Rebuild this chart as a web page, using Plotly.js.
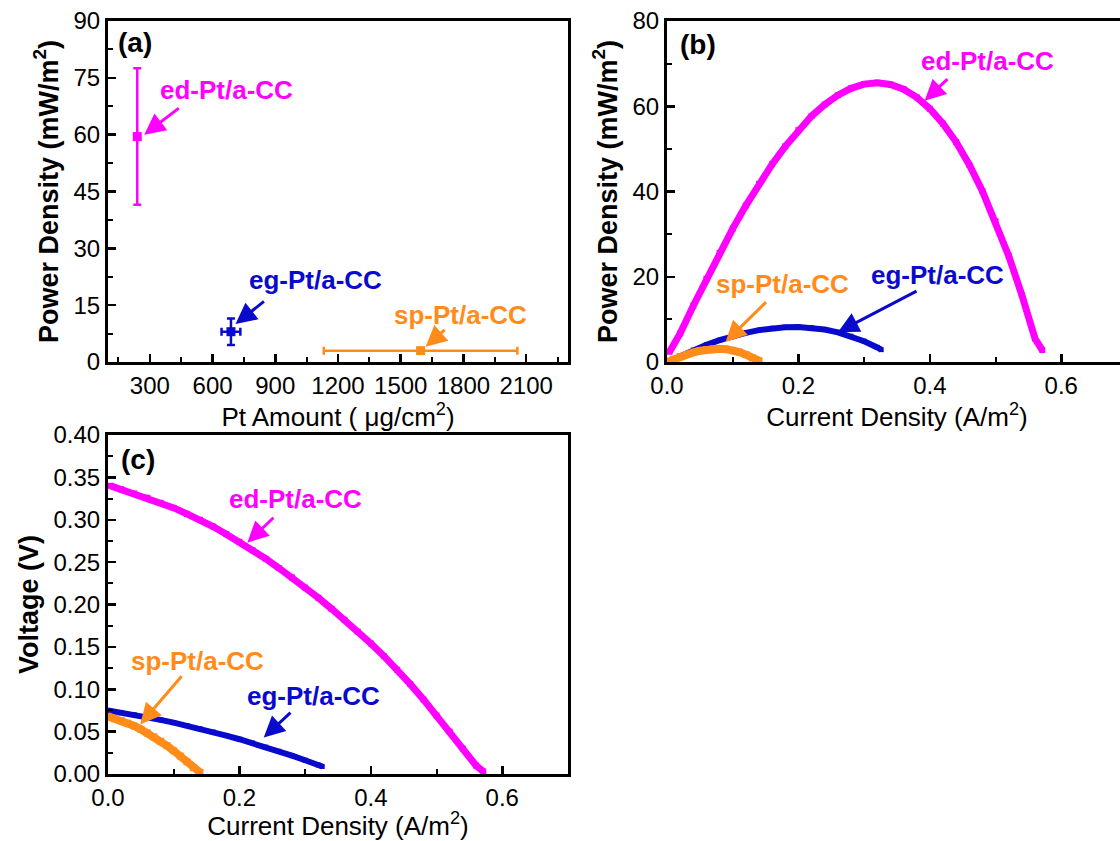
<!DOCTYPE html>
<html>
<head>
<meta charset="utf-8">
<script src="https://cdn.plot.ly/plotly-3.0.1.min.js"></script>
<style>
html, body { margin: 0; padding: 0; overflow: hidden; background: #fff; }
#chart { width: 1130px; height: 841px; }
</style>
</head>
<body>
<div id="chart"></div>
<script>
// ---------- Panel (a): power density vs Pt amount ----------
const samplesA = ["ed-Pt/a-CC", "eg-Pt/a-CC", "sp-Pt/a-CC"];
const ptAmount = [240, 688, 1595];          // µg/cm²
const ptAmountErr = [0, 45, 463];
const peakPower = [59.5, 8.0, 3.0];          // mW/m²
const peakPowerErr = [18, 3.5, 0];

// ---------- Panel (b)/(c) curves ----------
const edCurrent = [0.004, 0.02, 0.04, 0.06, 0.08, 0.10, 0.12, 0.14, 0.16, 0.18, 0.20, 0.22, 0.24, 0.26, 0.28, 0.30, 0.32, 0.34, 0.36, 0.38, 0.40, 0.42, 0.44, 0.46, 0.48, 0.50, 0.52, 0.54, 0.56, 0.571];
const edPower = [2.4, 6.7, 13.2, 19.5, 25.6, 31.3, 36.7, 41.8, 46.4, 50.6, 54.4, 57.7, 60.4, 62.6, 64.2, 65.2, 65.5, 65.1, 64.0, 62.1, 59.4, 55.9, 51.6, 46.3, 40.1, 33.0, 24.9, 15.7, 5.5, 2.8];
const edVoltage = [0.340, 0.336, 0.331, 0.326, 0.320, 0.314, 0.307, 0.300, 0.292, 0.283, 0.274, 0.264, 0.254, 0.243, 0.232, 0.220, 0.208, 0.195, 0.182, 0.168, 0.154, 0.139, 0.123, 0.106, 0.088, 0.069, 0.050, 0.030, 0.010, 0.003];

const egCurrent = [0, 0.02, 0.04, 0.06, 0.08, 0.10, 0.12, 0.14, 0.16, 0.18, 0.20, 0.22, 0.24, 0.26, 0.28, 0.30, 0.32, 0.326];
const egPower = [0, 1.45, 2.80, 4.02, 5.11, 6.06, 6.85, 7.48, 7.92, 8.15, 8.20, 8.03, 7.61, 6.97, 6.05, 4.86, 3.42, 2.9];
const egVoltage = [0.075, 0.0725, 0.0699, 0.0670, 0.0639, 0.0606, 0.0571, 0.0534, 0.0495, 0.0453, 0.0410, 0.0365, 0.0317, 0.0268, 0.0216, 0.0162, 0.0107, 0.0089];

const spCurrent = [0, 0.01, 0.02, 0.03, 0.04, 0.05, 0.06, 0.07, 0.08, 0.09, 0.10, 0.11, 0.12, 0.13, 0.14];
const spPower = [0, 0.66, 1.26, 1.80, 2.26, 2.64, 2.90, 3.07, 3.10, 3.00, 2.74, 2.33, 1.74, 0.96, 0.3];
const spVoltage = [0.068, 0.0657, 0.0631, 0.0600, 0.0566, 0.0527, 0.0484, 0.0438, 0.0387, 0.0333, 0.0274, 0.0212, 0.0145, 0.0074, 0.002];

const colors = { ed: "#FF00FF", eg: "#0A0ACC", sp: "#FF8C1A" };
const FONT = "Liberation Sans, Arial, sans-serif";
const W = 1130, H = 841;

function px2x(a, b) { return [a / W, b / W]; }
function px2y(top, bottom) { return [1 - bottom / H, 1 - top / H]; }

function axisBase(extra) {
  return Object.assign({
    showline: true, mirror: true, linewidth: 3, linecolor: "#000",
    ticks: "inside", ticklen: 8, tickwidth: 2.5, tickcolor: "#000",
    showgrid: false, zeroline: false,
    tickfont: { family: FONT, size: 24, color: "#000" },
    fixedrange: true
  }, extra);
}

const traces = [];
// Panel (a)
const aColors = [colors.ed, colors.eg, colors.sp];
for (let i = 0; i < samplesA.length; i++) {
  traces.push({
    x: [ptAmount[i]], y: [peakPower[i]], xaxis: "x", yaxis: "y",
    mode: "markers", type: "scatter", name: samplesA[i],
    marker: { symbol: "square", size: 9, color: aColors[i] },
    error_y: { type: "data", array: [peakPowerErr[i]], visible: peakPowerErr[i] > 0, color: aColors[i], thickness: 2.5, width: 4 },
    error_x: { type: "data", array: [ptAmountErr[i]], visible: ptAmountErr[i] > 0, color: aColors[i], thickness: 2.5, width: 4 }
  });
}
function curve(x, y, col, xa, ya, w) {
  return {
    x: x, y: y, xaxis: xa, yaxis: ya, type: "scatter", mode: "lines+markers",
    line: { color: col, width: w }, marker: { symbol: "square", size: w - 1, color: col }
  };
}
// Panel (b)
traces.push(curve(egCurrent, egPower, colors.eg, "x2", "y2", 6));
traces.push(curve(edCurrent, edPower, colors.ed, "x2", "y2", 7));
traces.push(curve(spCurrent, spPower, colors.sp, "x2", "y2", 8));
// Panel (c)
traces.push(curve(edCurrent, edVoltage, colors.ed, "x3", "y3", 7));
traces.push(curve(egCurrent, egVoltage, colors.eg, "x3", "y3", 6));
traces.push(curve(spCurrent, spVoltage, colors.sp, "x3", "y3", 8));

function label(text, x, y, xa, ya, col, anchor, size) {
  return { text: "<b>" + text + "</b>", x: x, y: y, xref: xa, yref: ya, showarrow: false,
    xanchor: anchor || "center", yanchor: "middle",
    font: { family: FONT, size: size || 26, color: col } };
}
function arrow(hx, hy, tx, ty, xa, ya, col) {
  return { text: "", x: hx, y: hy, ax: tx, ay: ty, xref: xa, yref: ya, axref: xa, ayref: ya,
    showarrow: true, arrowhead: 2, arrowsize: 1.4, arrowwidth: 3, arrowcolor: col, standoff: 0 };
}

const annotations = [
  // (a)
  label("(a)", 137, 84.3, "x", "y", "#000", "left", 28),
  label("ed-Pt/a-CC", 665, 71.9, "x", "y", colors.ed),
  arrow(273, 60.0, 446, 67.3, "x", "y", colors.ed),
  label("eg-Pt/a-CC", 1093, 21.6, "x", "y", colors.eg),
  arrow(710, 10.0, 853, 16.3, "x", "y", colors.eg),
  label("sp-Pt/a-CC", 1788, 12.4, "x", "y", colors.sp),
  arrow(1619, 4.0, 1717, 8.8, "x", "y", colors.sp),
  // (b)
  label("(b)", 0.016, 74.5, "x2", "y2", "#000", "left", 28),
  label("ed-Pt/a-CC", 0.487, 70.6, "x2", "y2", colors.ed),
  arrow(0.392, 61.3, 0.429, 66.7, "x2", "y2", colors.ed),
  label("eg-Pt/a-CC", 0.411, 20.3, "x2", "y2", colors.eg),
  arrow(0.26, 7.0, 0.382, 16.8, "x2", "y2", colors.eg),
  label("sp-Pt/a-CC", 0.176, 18.3, "x2", "y2", colors.sp),
  arrow(0.089, 4.7, 0.153, 14.4, "x2", "y2", colors.sp),
  // (c)
  label("(c)", 0.016, 0.371, "x3", "y3", "#000", "left", 28),
  label("ed-Pt/a-CC", 0.285, 0.324, "x3", "y3", colors.ed),
  arrow(0.212, 0.273, 0.254, 0.304, "x3", "y3", colors.ed),
  label("sp-Pt/a-CC", 0.136, 0.133, "x3", "y3", colors.sp),
  arrow(0.049, 0.0585, 0.114, 0.117, "x3", "y3", colors.sp),
  label("eg-Pt/a-CC", 0.313, 0.0917, "x3", "y3", colors.eg),
  arrow(0.237, 0.043, 0.28, 0.074, "x3", "y3", colors.eg)
];

const titleFont = { family: FONT, size: 26, color: "#000" };
const yTitleFont = { family: FONT, size: 27, color: "#000" };

const layout = {
  width: W, height: H,
  margin: { l: 0, r: 0, t: 0, b: 0 },
  paper_bgcolor: "#fff", plot_bgcolor: "#fff",
  showlegend: false,
  xaxis: axisBase({
    domain: px2x(108, 568), anchor: "y", range: [100, 2300],
    tick0: 0, dtick: 300,
    minor: { ticks: "inside", ticklen: 5, tickwidth: 2, dtick: 150, tick0: 0, tickcolor: "#000" },
    title: { text: "Pt Amount ( \u03bcg/cm<sup>2</sup>)", font: titleFont, standoff: 4 }
  }),
  yaxis: axisBase({
    domain: px2y(21, 362), anchor: "x", range: [0, 90],
    tick0: 0, dtick: 15,
    minor: { ticks: "inside", ticklen: 5, tickwidth: 2, dtick: 7.5, tick0: 0, tickcolor: "#000" },
    title: { text: "<b>Power Density (mW/m<sup>2</sup>)</b>", font: yTitleFont, standoff: 8 }
  }),
  xaxis2: axisBase({
    domain: px2x(667, 1127), anchor: "y2", range: [0, 0.7],
    tick0: 0, dtick: 0.2, tickformat: ".1f",
    minor: { ticks: "inside", ticklen: 5, tickwidth: 2, dtick: 0.1, tick0: 0, tickcolor: "#000" },
    title: { text: "Current Density (A/m<sup>2</sup>)", font: titleFont, standoff: 4 }
  }),
  yaxis2: axisBase({
    domain: px2y(21, 362), anchor: "x2", range: [0, 80],
    tick0: 0, dtick: 20,
    minor: { ticks: "inside", ticklen: 5, tickwidth: 2, dtick: 10, tick0: 0, tickcolor: "#000" },
    title: { text: "<b>Power Density (mW/m<sup>2</sup>)</b>", font: yTitleFont, standoff: 8 }
  }),
  xaxis3: axisBase({
    domain: px2x(108, 568), anchor: "y3", range: [0, 0.7],
    tick0: 0, dtick: 0.2, tickformat: ".1f",
    minor: { ticks: "inside", ticklen: 5, tickwidth: 2, dtick: 0.1, tick0: 0, tickcolor: "#000" },
    title: { text: "Current Density (A/m<sup>2</sup>)", font: titleFont, standoff: 4 }
  }),
  yaxis3: axisBase({
    domain: px2y(435, 774), anchor: "x3", range: [0, 0.4],
    tick0: 0, dtick: 0.05, tickformat: ".2f",
    minor: { ticks: "inside", ticklen: 5, tickwidth: 2, dtick: 0.025, tick0: 0, tickcolor: "#000" },
    title: { text: "<b>Voltage (V)</b>", font: yTitleFont, standoff: 8 }
  }),
  annotations: annotations
};

Plotly.newPlot("chart", traces, layout, { displayModeBar: false, staticPlot: true });
</script>
</body>
</html>
